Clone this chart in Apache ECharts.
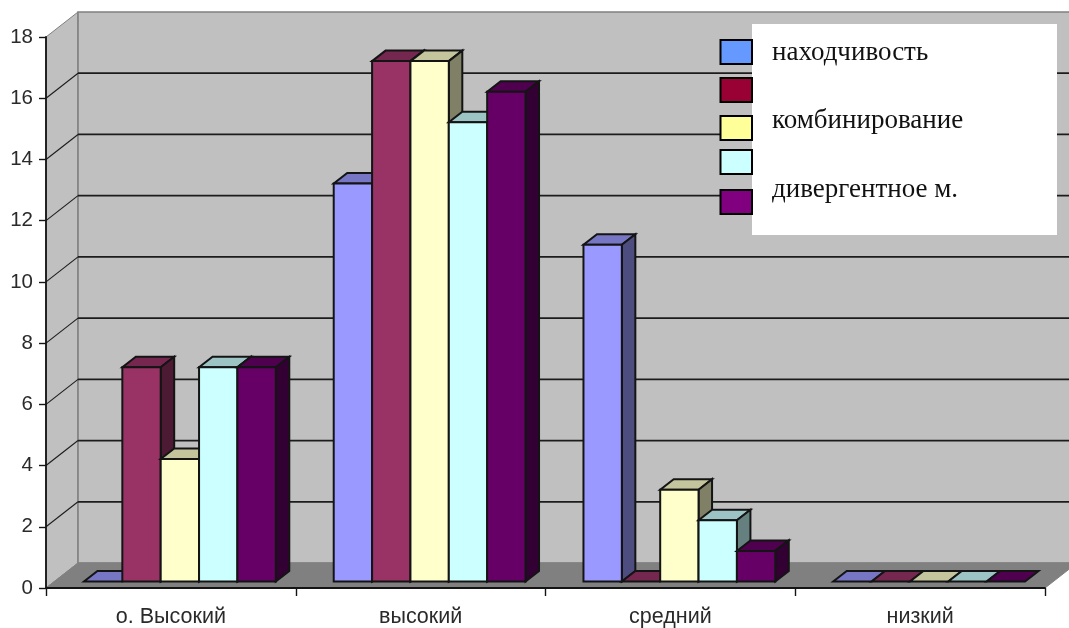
<!DOCTYPE html>
<html>
<head>
<meta charset="utf-8">
<style>html,body{margin:0;padding:0;background:#fff}#c{width:1069px;height:628px}</style>
<script src="https://cdn.jsdelivr.net/npm/echarts@6/dist/echarts.min.js"></script>
</head>
<body>
<div id="c"></div>
<script>
const categories = ['о. Высокий', 'высокий', 'средний', 'низкий'];
const seriesNames = ['находчивость', '', 'комбинирование', '', 'дивергентное м.'];
const nahodchivost = [0, 13, 11, 0];
const series2 = [7, 17, 0, 0];
const kombinirovanie = [4, 17, 3, 0];
const series4 = [7, 15, 2, 0];
const divergentnoe = [7, 16, 1, 0];
const seriesValues = [nahodchivost, series2, kombinirovanie, series4, divergentnoe];
const valueTicks = [0, 2, 4, 6, 8, 10, 12, 14, 16, 18];
const barColors = [[153,153,255],[153,51,102],[255,255,204],[204,255,255],[102,0,102]];
const legendColors = ['#6699FF', '#990033', '#FFFF99', '#CCFFFF', '#800080'];

const WALL_DX = 32, WALL_DY = -25;      // depth of the 3D box
const PLANE_DX = 9, PLANE_DY = -6.5;    // front plane of bars, behind axis plane
const BAR_DX = 13.5, BAR_DY = -10.5;    // bar depth
const GROUP_RATIO = 0.768;
const INK = '#141414';

function shade(c, f) { return 'rgb(' + c.map(v => Math.round(v * f)).join(',') + ')'; }
function poly(points, fill, stroke, lineWidth) {
  return { type: 'polygon', shape: { points }, style: { fill, stroke, lineWidth, lineJoin: 'miter' } };
}

function renderWalls(params, api) {
  const cs = params.coordSys;
  const L = cs.x, R = cs.x + cs.width;
  const y0 = api.coord([0, 0])[1], yT = api.coord([0, valueTicks[valueTicks.length - 1]])[1];
  const children = [
    poly([[L, yT], [L + WALL_DX, yT + WALL_DY], [L + WALL_DX, y0 + WALL_DY], [L, y0]], '#C0C0C0', '#808080', 1),
    poly([[L + WALL_DX, yT + WALL_DY], [R + WALL_DX, yT + WALL_DY], [R + WALL_DX, y0 + WALL_DY], [L + WALL_DX, y0 + WALL_DY]], '#C0C0C0', '#808080', 1.6),
    poly([[L, y0], [R, y0], [R + WALL_DX, y0 + WALL_DY], [L + WALL_DX, y0 + WALL_DY]], '#808080', '#808080', 1)
  ];
  valueTicks.slice(1, -1).forEach(t => {
    const y = api.coord([0, t])[1];
    children.push({ type: 'line', shape: { x1: L, y1: y, x2: L + WALL_DX, y2: y + WALL_DY },
      style: { stroke: '#1c1c1c', lineWidth: 1.1 } });
    children.push({ type: 'line', shape: { x1: L + WALL_DX, y1: y + WALL_DY, x2: R + WALL_DX, y2: y + WALL_DY },
      style: { stroke: '#1c1c1c', lineWidth: 1.8 } });
  });
  return { type: 'group', children };
}

function barRenderer(s) {
  return function (params, api) {
    const cat = api.value(0), v = api.value(1);
    const band = api.size([1, 0])[0];
    const w = band * GROUP_RATIO / seriesValues.length;
    const base = api.coord([cat, 0]), top = api.coord([cat, v]);
    const x1 = base[0] + PLANE_DX - band * GROUP_RATIO / 2 + s * w, x2 = x1 + w;
    const yb = base[1] + PLANE_DY, yt = top[1] + PLANE_DY;
    const c = barColors[s];
    const children = [];
    children.push(poly([[x1, yt], [x2, yt], [x2 + BAR_DX, yt + BAR_DY], [x1 + BAR_DX, yt + BAR_DY]], shade(c, 0.77), INK, 2));
    if (v > 0) {
      children.push(poly([[x2, yt], [x2 + BAR_DX, yt + BAR_DY], [x2 + BAR_DX, yb + BAR_DY], [x2, yb]], shade(c, 0.5), INK, 2));
      children.push(poly([[x1, yt], [x2, yt], [x2, yb], [x1, yb]], shade(c, 1), INK, 2));
    }
    return { type: 'group', children };
  };
}

const series = [{
  type: 'custom', name: 'walls', silent: true, clip: false, renderItem: renderWalls,
  data: [[0, 0]], encode: { x: 0, y: 1 }, z: 1
}];
seriesValues.forEach((vals, s) => {
  series.push({
    type: 'custom', name: seriesNames[s] || ('series' + s), clip: false, renderItem: barRenderer(s),
    data: vals.map((v, i) => [i, v]), encode: { x: 0, y: 1 }, z: 2
  });
});

const swatchTops = [40, 78, 116, 150, 190];
const textCentres = [53, null, 121, null, 190];
const graphic = [{ type: 'rect', z: 10, shape: { x: 752, y: 24, width: 305, height: 211 }, style: { fill: '#fff' } }];
legendColors.forEach((col, i) => {
  graphic.push({ type: 'rect', z: 11, shape: { x: 720.5, y: swatchTops[i], width: 31.5, height: 24 },
    style: { fill: col, stroke: '#000', lineWidth: 2 } });
  if (seriesNames[i]) {
    graphic.push({ type: 'text', z: 11, x: 772, y: textCentres[i],
      style: { text: seriesNames[i], fill: '#111', fontFamily: 'Liberation Serif', fontSize: 27, verticalAlign: 'middle' } });
  }
});

const chart = echarts.init(document.getElementById('c'), null, { renderer: 'canvas' });
chart.setOption({
  animation: false,
  backgroundColor: '#fff',
  grid: { left: 46, right: 24, top: 37, bottom: 40, containLabel: false },
  xAxis: {
    type: 'category', data: categories, z: 5,
    axisLine: { show: true, lineStyle: { color: INK, width: 1.8 } },
    axisTick: { show: true, length: 8, alignWithLabel: false, lineStyle: { color: INK, width: 1.4 } },
    axisLabel: { color: '#2a2a2a', fontFamily: 'Liberation Sans', fontSize: 21.5, margin: 18, interval: 0 },
    splitLine: { show: false }
  },
  yAxis: {
    type: 'value', min: 0, max: 18, interval: 2, z: 5,
    axisLine: { show: true, lineStyle: { color: INK, width: 1.8 } },
    axisTick: { show: true, length: 7, lineStyle: { color: INK, width: 1.4 } },
    axisLabel: { color: '#2a2a2a', fontFamily: 'Liberation Sans', fontSize: 20.5, margin: 13 },
    splitLine: { show: false }
  },
  graphic,
  series
});
</script>
</body>
</html>
